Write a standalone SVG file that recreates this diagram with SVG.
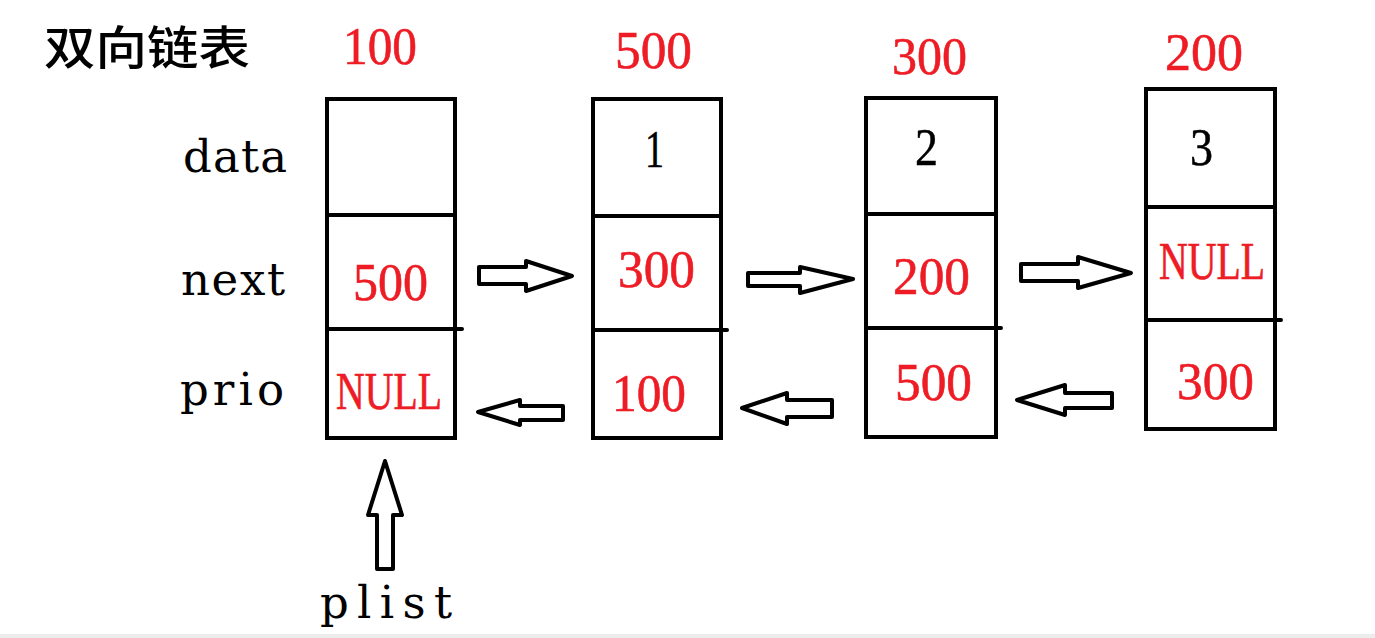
<svg xmlns="http://www.w3.org/2000/svg" width="1375" height="638" viewBox="0 0 1375 638">
<style>
.box{fill:none;stroke:#000;stroke-width:4}
.ln{stroke:#000;stroke-width:4;stroke-linecap:round}
.arr{fill:#fff;stroke:#000;stroke-width:4;stroke-linejoin:round}
.lbl{font-family:"DejaVu Serif",serif;font-size:45px;fill:#000}
.red{font-family:"Liberation Serif",serif;font-size:52px;fill:#ee1c25;stroke:#ee1c25;stroke-width:0.6}
.num{font-family:"Liberation Serif",serif;font-size:52px;fill:#000;stroke:#000;stroke-width:0.5}
.title{font-family:"Noto Sans CJK SC",sans-serif;font-size:46px;font-weight:500;fill:#000}
</style>
<rect x="0" y="0" width="1375" height="638" fill="#fff"/>
<rect x="0" y="634" width="1375" height="4" fill="#ececec"/>
<text class="title" x="44" y="64" textLength="206" lengthAdjust="spacingAndGlyphs">双向链表</text>
<g id="labels">
<text class="lbl" x="183" y="172" textLength="104" lengthAdjust="spacing">data</text>
<text class="lbl" x="181" y="295" textLength="104" lengthAdjust="spacing">next</text>
<text class="lbl" x="180" y="405" textLength="104" lengthAdjust="spacing">prio</text>
<text class="lbl" x="320" y="618" textLength="132" lengthAdjust="spacing">plist</text>
</g>
<g id="node1">
<text class="red" x="343" y="64" textLength="74" lengthAdjust="spacingAndGlyphs">100</text>
<rect class="box" x="327" y="99" width="128" height="339"/>
<line class="ln" x1="327" y1="215" x2="455" y2="215"/>
<line class="ln" x1="327" y1="329" x2="462" y2="329"/>
<text class="red" x="353" y="300" textLength="75" lengthAdjust="spacingAndGlyphs">500</text>
<text class="red" x="336" y="409" textLength="106" lengthAdjust="spacingAndGlyphs">NULL</text>
</g>
<g id="node2">
<text class="red" x="615" y="68" textLength="77" lengthAdjust="spacingAndGlyphs">500</text>
<rect class="box" x="593" y="99" width="128" height="339"/>
<line class="ln" x1="593" y1="216" x2="721" y2="216"/>
<line class="ln" x1="593" y1="330" x2="727" y2="330"/>
<text class="num" x="645" y="167" textLength="19" lengthAdjust="spacingAndGlyphs">1</text>
<text class="red" x="618" y="287" textLength="77" lengthAdjust="spacingAndGlyphs">300</text>
<text class="red" x="612" y="411" textLength="74" lengthAdjust="spacingAndGlyphs">100</text>
</g>
<g id="node3">
<text class="red" x="892" y="74" textLength="75" lengthAdjust="spacingAndGlyphs">300</text>
<rect class="box" x="866" y="98" width="130" height="339"/>
<line class="ln" x1="866" y1="214" x2="996" y2="214"/>
<line class="ln" x1="866" y1="328" x2="1001" y2="328"/>
<text class="num" x="915" y="165" textLength="23" lengthAdjust="spacingAndGlyphs">2</text>
<text class="red" x="893" y="294" textLength="77" lengthAdjust="spacingAndGlyphs">200</text>
<text class="red" x="895" y="400" textLength="77" lengthAdjust="spacingAndGlyphs">500</text>
</g>
<g id="node4">
<text class="red" x="1165" y="70" textLength="78" lengthAdjust="spacingAndGlyphs">200</text>
<rect class="box" x="1146" y="89" width="129" height="340"/>
<line class="ln" x1="1146" y1="207" x2="1275" y2="207"/>
<line class="ln" x1="1146" y1="320" x2="1281" y2="320"/>
<text class="num" x="1190" y="165" textLength="23" lengthAdjust="spacingAndGlyphs">3</text>
<text class="red" x="1159" y="279" textLength="106" lengthAdjust="spacingAndGlyphs">NULL</text>
<text class="red" x="1177" y="399" textLength="77" lengthAdjust="spacingAndGlyphs">300</text>
</g>
<g id="connectors">
<polygon class="arr" points="479,267 526,267 526,261 572,276 526,291 526,284 479,284"/>
<polygon class="arr" points="748,273 800,273 800,267 853,279 800,293 800,286 748,286"/>
<polygon class="arr" points="1021,264 1078,264 1078,257 1131,273 1078,288 1078,281 1021,281"/>
<polygon class="arr" points="563,406 520,406 520,400 478,412 520,425 520,420 563,420"/>
<polygon class="arr" points="832,400 787,400 787,393 742,408 787,424 787,417 832,417"/>
<polygon class="arr" points="1112,393 1065,393 1065,385 1017,400 1065,415 1065,408 1112,408"/>
<polygon class="arr" points="377,569 377,515 368,515 385,461 402,515 393,515 393,569"/>
</g>
</svg>
